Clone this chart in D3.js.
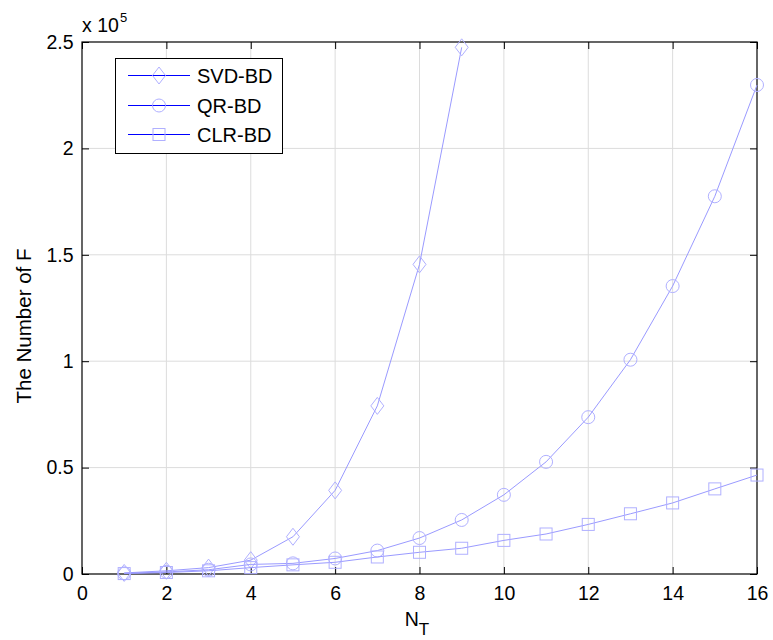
<!DOCTYPE html>
<html><head><meta charset="utf-8">
<script src="https://cdn.jsdelivr.net/npm/d3@7"></script>
<style>body{margin:0;background:#fff}svg{display:block}text{font-family:"Liberation Sans",Arial,Helvetica,sans-serif;fill:#000}</style>
</head><body><svg id="c" width="773" height="640"></svg>
<script>
const nT = [1,2,3,4,5,6,7,8,9,10,11,12,13,14,15,16];
const svdBD = [500,1500,3000,6500,17500,39300,79000,145500,247500];
const qrBD = [300,1000,2000,4500,5000,7300,11000,16900,25400,37200,52700,73700,100700,135300,177500,229800];
const clrBD = [200,700,1500,3000,4300,5500,8000,10200,12100,15800,18800,23300,28300,33400,40000,46500];
const xTicks = [0,2,4,6,8,10,12,14,16];
const yTicks = [0,0.5,1,1.5,2,2.5];
const seriesNames = ["SVD-BD","QR-BD","CLR-BD"];

const FS=19.5;
const L=82,R=757,T=42,B=574;
const svg=d3.select("#c");
const x=d3.scaleLinear().domain([0,16]).range([L,R]);
const y=d3.scaleLinear().domain([0,2.5e5]).range([B,T]);

// grid
const g=svg.append("g");
xTicks.forEach(t=>{ if(t>0&&t<16) g.append("line").attr("x1",x(t)).attr("x2",x(t)).attr("y1",T).attr("y2",B).attr("stroke","#dcdcdc").attr("stroke-width",1);});
yTicks.forEach(t=>{ if(t>0&&t<2.5) g.append("line").attr("x1",L).attr("x2",R).attr("y1",y(t*1e5)).attr("y2",y(t*1e5)).attr("stroke","#dcdcdc").attr("stroke-width",1);});

// axes
const fmt=d=>d3.format("")(d);
svg.append("g").attr("transform",`translate(0,${B})`).call(d3.axisBottom(x).tickValues(xTicks).tickSizeInner(-7).tickSizeOuter(0).tickPadding(12).tickFormat(fmt))
 .call(a=>{a.select(".domain").remove();a.selectAll("text").attr("font-size",FS).attr("font-family","Liberation Sans, Arial, sans-serif");});
svg.append("g").attr("transform",`translate(0,${T})`).call(d3.axisTop(x).tickValues(xTicks).tickSizeInner(-7).tickSizeOuter(0).tickFormat(""))
 .call(a=>a.select(".domain").remove());
svg.append("g").attr("transform",`translate(${L},0)`).call(d3.axisLeft(y).tickValues(yTicks.map(v=>v*1e5)).tickSizeInner(-7).tickSizeOuter(0).tickPadding(8.5).tickFormat(d=>fmt(d/1e5)))
 .call(a=>{a.select(".domain").remove();a.selectAll("text").attr("font-size",FS).attr("font-family","Liberation Sans, Arial, sans-serif");});
svg.append("g").attr("transform",`translate(${R},0)`).call(d3.axisRight(y).tickValues(yTicks.map(v=>v*1e5)).tickSizeInner(-7).tickSizeOuter(0).tickFormat(""))
 .call(a=>a.select(".domain").remove());
svg.selectAll(".tick line").attr("stroke","#000");
svg.append("rect").attr("x",L).attr("y",T).attr("width",R-L).attr("height",B-T).attr("fill","none").attr("stroke","#000").attr("stroke-width",1.2);

// series
const lineCol="#9a9aff", markCol="#b0b0ff";
const sym={diamond:(s,cx,cy)=>s.append("path").attr("d",`M${cx},${cy-8.5}L${cx+6.5},${cy}L${cx},${cy+8.5}L${cx-6.5},${cy}Z`),
 circle:(s,cx,cy)=>s.append("circle").attr("cx",cx).attr("cy",cy).attr("r",6.5),
 square:(s,cx,cy)=>s.append("rect").attr("x",cx-6).attr("y",cy-6).attr("width",12).attr("height",12)};
const data=[[svdBD,"diamond"],[qrBD,"circle"],[clrBD,"square"]];
const line=d3.line().x((d,i)=>x(nT[i])).y(d=>y(d));
const pg=svg.append("g");
data.forEach(([vals,m])=>{
  pg.append("path").datum(vals).attr("d",line).attr("fill","none").attr("stroke",lineCol).attr("stroke-width",1);
  vals.forEach((v,i)=>sym[m](pg,x(nT[i]),y(v)).attr("fill","none").attr("stroke",markCol).attr("stroke-width",1));
});

// labels
svg.append("text").attr("x",L).attr("y",32).attr("font-size",FS).text("x 10");
svg.append("text").attr("x",120).attr("y",22).attr("font-size",13).text("5");
svg.append("text").attr("transform",`translate(31,326) rotate(-90)`).attr("text-anchor","middle").attr("font-size",20.5).text("The Number of F");
const xl=svg.append("text").attr("x",417).attr("y",626).attr("text-anchor","middle").attr("font-size",FS);
xl.append("tspan").text("N");
xl.append("tspan").attr("dy",9).attr("font-size",17).text("T");

// legend
const lg=svg.append("g");
lg.append("rect").attr("x",115.5).attr("y",58.5).attr("width",167).attr("height",95).attr("fill","#fff").attr("stroke","#000").attr("stroke-width",1);
const rows=[75.5,105.5,134.5];
data.forEach(([vals,m],i)=>{
  lg.append("line").attr("x1",128).attr("x2",190).attr("y1",rows[i]).attr("y2",rows[i]).attr("stroke","#0000ff").attr("stroke-width",1);
  sym[m](lg,159,rows[i]).attr("fill","none").attr("stroke",markCol).attr("stroke-width",1);
  lg.append("text").attr("x",197).attr("y",rows[i]+7).attr("font-size",20).text(seriesNames[i]);
});
</script></body></html>
